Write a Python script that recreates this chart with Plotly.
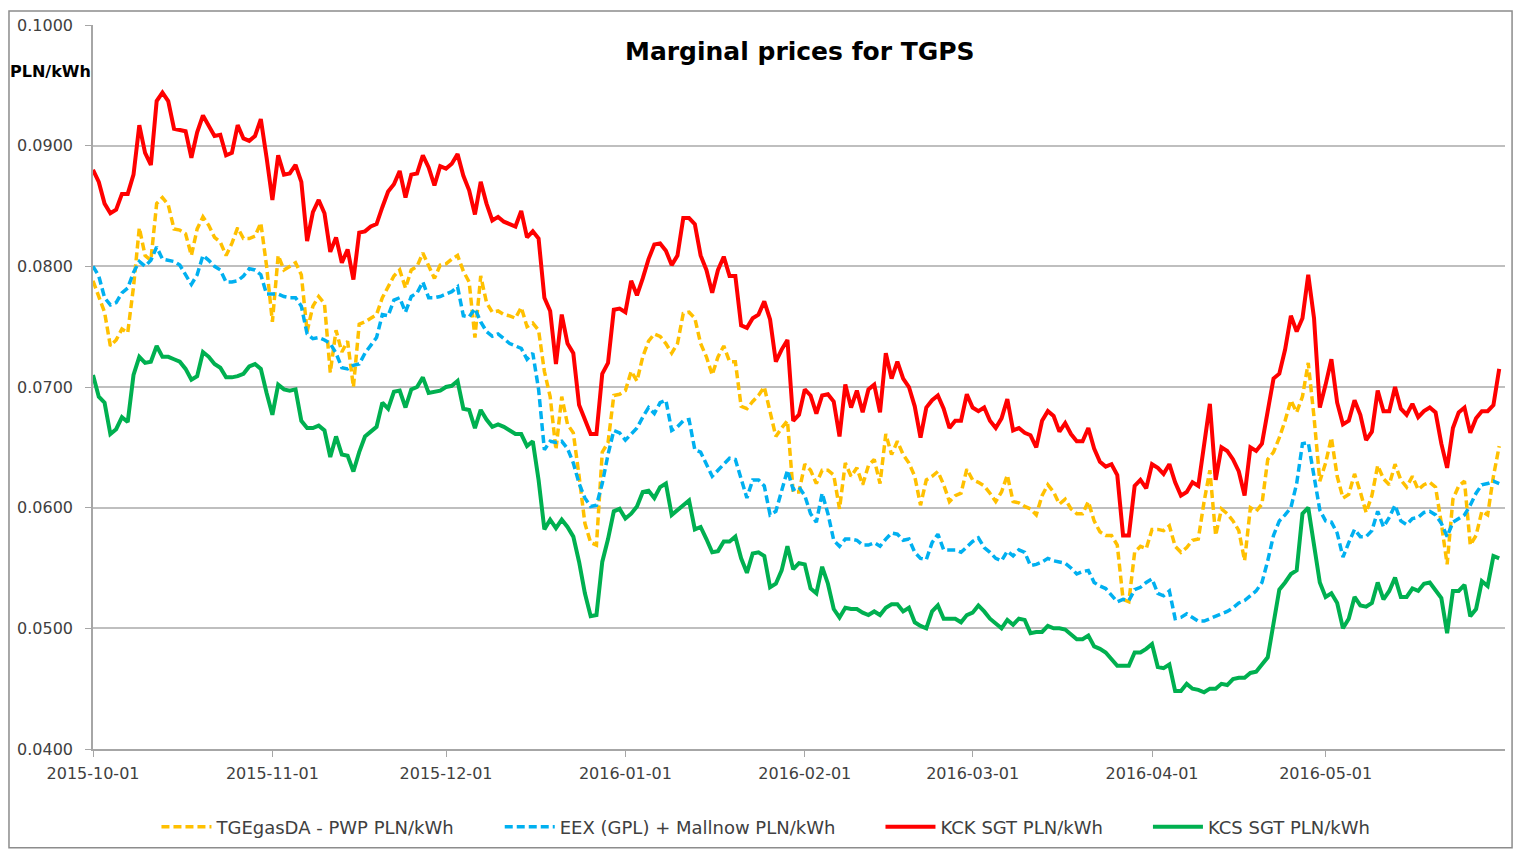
import pandas as pd
import plotly.graph_objects as go

start_date = "2015-10-01"

tge_pwp = [
0.0788,0.0775,0.0762,0.0734,0.0739,0.0748,0.0745,0.0783,0.0832,0.0809,0.0805,0.0852,0.0857,0.0851,0.0831,0.0830,0.0827,0.0809,0.0831,0.0841,
0.0834,0.0824,0.0820,0.0809,0.0819,0.0832,0.0823,0.0823,0.0825,0.0836,0.0800,0.0754,0.0809,0.0797,0.0800,0.0803,0.0793,0.0746,0.0767,0.0775,
0.0769,0.0712,0.0747,0.0729,0.0738,0.0700,0.0752,0.0754,0.0757,0.0760,0.0774,0.0783,0.0792,0.0797,0.0782,0.0797,0.0800,0.0811,0.0800,0.0790,
0.0801,0.0802,0.0806,0.0809,0.0796,0.0787,0.0741,0.0792,0.0770,0.0762,0.0763,0.0760,0.0759,0.0757,0.0766,0.0750,0.0753,0.0747,0.0713,0.0692,
0.0648,0.0692,0.0669,0.0662,0.0626,0.0587,0.0571,0.0569,0.0646,0.0654,0.0693,0.0694,0.0697,0.0713,0.0705,0.0725,0.0738,0.0744,0.0742,0.0736,
0.0728,0.0736,0.0761,0.0762,0.0757,0.0736,0.0725,0.0710,0.0725,0.0734,0.0721,0.0721,0.0684,0.0682,0.0688,0.0693,0.0700,0.0678,0.0659,0.0666,
0.0672,0.0613,0.0613,0.0636,0.0631,0.0620,0.0631,0.0631,0.0627,0.0599,0.0637,0.0626,0.0633,0.0619,0.0635,0.0640,0.0620,0.0661,0.0644,0.0655,
0.0644,0.0637,0.0626,0.0602,0.0623,0.0626,0.0630,0.0619,0.0605,0.0610,0.0612,0.0632,0.0623,0.0621,0.0618,0.0612,0.0605,0.0613,0.0627,0.0605,
0.0604,0.0601,0.0599,0.0594,0.0610,0.0619,0.0613,0.0603,0.0607,0.0599,0.0595,0.0595,0.0605,0.0589,0.0580,0.0577,0.0577,0.0569,0.0524,0.0522,
0.0563,0.0568,0.0566,0.0582,0.0582,0.0581,0.0585,0.0568,0.0563,0.0567,0.0573,0.0574,0.0605,0.0631,0.0577,0.0599,0.0595,0.0589,0.0581,0.0556,
0.0600,0.0597,0.0603,0.0640,0.0646,0.0658,0.0672,0.0689,0.0679,0.0692,0.0720,0.0675,0.0622,0.0637,0.0658,0.0626,0.0608,0.0611,0.0628,0.0613,
0.0596,0.0610,0.0635,0.0624,0.0619,0.0636,0.0623,0.0617,0.0626,0.0615,0.0619,0.0621,0.0617,0.0587,0.0553,0.0607,0.0618,0.0622,0.0569,0.0577,
0.0597,0.0594,0.0626,0.0651]

eex_mallnow = [
0.0800,0.0792,0.0774,0.0768,0.0770,0.0778,0.0782,0.0795,0.0804,0.0800,0.0805,0.0816,0.0806,0.0805,0.0804,0.0801,0.0793,0.0785,0.0793,0.0809,
0.0805,0.0800,0.0797,0.0787,0.0787,0.0788,0.0792,0.0798,0.0797,0.0793,0.0777,0.0777,0.0777,0.0775,0.0774,0.0774,0.0767,0.0744,0.0740,0.0741,
0.0739,0.0736,0.0728,0.0716,0.0715,0.0718,0.0719,0.0728,0.0734,0.0741,0.0760,0.0759,0.0772,0.0774,0.0762,0.0775,0.0778,0.0787,0.0774,0.0774,
0.0775,0.0777,0.0779,0.0783,0.0759,0.0758,0.0765,0.0754,0.0746,0.0742,0.0744,0.0740,0.0736,0.0734,0.0732,0.0723,0.0728,0.0698,0.0648,0.0655,
0.0654,0.0655,0.0649,0.0637,0.0620,0.0608,0.0601,0.0602,0.0620,0.0644,0.0664,0.0662,0.0656,0.0661,0.0666,0.0675,0.0683,0.0678,0.0687,0.0689,
0.0664,0.0667,0.0672,0.0673,0.0648,0.0646,0.0636,0.0626,0.0631,0.0636,0.0641,0.0640,0.0623,0.0608,0.0623,0.0623,0.0618,0.0594,0.0597,0.0613,
0.0631,0.0615,0.0617,0.0610,0.0595,0.0588,0.0612,0.0595,0.0573,0.0568,0.0574,0.0574,0.0573,0.0569,0.0569,0.0571,0.0568,0.0574,0.0579,0.0578,
0.0573,0.0574,0.0563,0.0558,0.0557,0.0571,0.0578,0.0565,0.0565,0.0565,0.0563,0.0568,0.0572,0.0575,0.0567,0.0563,0.0558,0.0556,0.0564,0.0560,
0.0565,0.0563,0.0552,0.0553,0.0555,0.0558,0.0556,0.0555,0.0554,0.0550,0.0545,0.0547,0.0548,0.0538,0.0535,0.0533,0.0528,0.0522,0.0524,0.0523,
0.0532,0.0534,0.0538,0.0541,0.0529,0.0527,0.0531,0.0508,0.0509,0.0512,0.0509,0.0506,0.0506,0.0508,0.0510,0.0512,0.0514,0.0517,0.0521,0.0523,
0.0527,0.0531,0.0538,0.0556,0.0577,0.0589,0.0594,0.0600,0.0620,0.0653,0.0654,0.0627,0.0598,0.0589,0.0588,0.0579,0.0559,0.0571,0.0582,0.0576,
0.0576,0.0581,0.0597,0.0584,0.0592,0.0602,0.0589,0.0586,0.0591,0.0592,0.0596,0.0597,0.0594,0.0587,0.0576,0.0588,0.0591,0.0594,0.0602,0.0612,
0.0619,0.0620,0.0622,0.0620]

kck_sgt = [
0.0880,0.0870,0.0852,0.0844,0.0847,0.0860,0.0860,0.0876,0.0917,0.0894,0.0884,0.0937,0.0944,0.0937,0.0914,0.0913,0.0912,0.0890,0.0911,0.0925,
0.0917,0.0908,0.0909,0.0892,0.0894,0.0917,0.0906,0.0904,0.0908,0.0922,0.0890,0.0855,0.0892,0.0876,0.0877,0.0884,0.0870,0.0821,0.0845,0.0855,
0.0844,0.0812,0.0824,0.0803,0.0814,0.0789,0.0828,0.0829,0.0833,0.0835,0.0849,0.0862,0.0868,0.0879,0.0857,0.0876,0.0877,0.0892,0.0882,0.0867,
0.0883,0.0881,0.0885,0.0893,0.0875,0.0863,0.0843,0.0870,0.0852,0.0838,0.0841,0.0837,0.0835,0.0833,0.0846,0.0824,0.0829,0.0823,0.0774,0.0763,
0.0719,0.0760,0.0736,0.0728,0.0685,0.0672,0.0661,0.0661,0.0711,0.0720,0.0764,0.0765,0.0762,0.0788,0.0776,0.0790,0.0806,0.0818,0.0819,0.0813,
0.0801,0.0809,0.0840,0.0840,0.0835,0.0809,0.0797,0.0778,0.0797,0.0808,0.0792,0.0792,0.0751,0.0749,0.0757,0.0760,0.0771,0.0756,0.0721,0.0731,
0.0739,0.0672,0.0677,0.0698,0.0693,0.0678,0.0693,0.0694,0.0688,0.0659,0.0702,0.0683,0.0697,0.0679,0.0698,0.0702,0.0679,0.0728,0.0707,0.0721,
0.0707,0.0700,0.0684,0.0658,0.0683,0.0689,0.0693,0.0682,0.0666,0.0672,0.0672,0.0694,0.0683,0.0680,0.0683,0.0672,0.0666,0.0674,0.0690,0.0664,
0.0666,0.0662,0.0660,0.0650,0.0672,0.0680,0.0676,0.0663,0.0670,0.0661,0.0655,0.0655,0.0666,0.0649,0.0638,0.0634,0.0636,0.0627,0.0577,0.0577,
0.0618,0.0623,0.0616,0.0636,0.0633,0.0628,0.0636,0.0621,0.0610,0.0613,0.0621,0.0618,0.0653,0.0686,0.0623,0.0650,0.0647,0.0640,0.0630,0.0610,
0.0650,0.0647,0.0653,0.0679,0.0707,0.0711,0.0731,0.0759,0.0746,0.0757,0.0793,0.0757,0.0683,0.0702,0.0723,0.0687,0.0669,0.0672,0.0689,0.0677,
0.0656,0.0663,0.0697,0.0680,0.0680,0.0700,0.0682,0.0677,0.0686,0.0675,0.0680,0.0683,0.0679,0.0653,0.0633,0.0666,0.0679,0.0683,0.0662,0.0674,
0.0680,0.0680,0.0685,0.0715]

kcs_sgt = [
0.0710,0.0692,0.0687,0.0661,0.0665,0.0675,0.0671,0.0710,0.0725,0.0720,0.0721,0.0734,0.0725,0.0725,0.0723,0.0721,0.0715,0.0706,0.0709,0.0729,
0.0725,0.0719,0.0716,0.0708,0.0708,0.0709,0.0711,0.0717,0.0719,0.0715,0.0695,0.0677,0.0702,0.0698,0.0697,0.0698,0.0672,0.0666,0.0666,0.0668,
0.0664,0.0642,0.0659,0.0644,0.0643,0.0630,0.0646,0.0659,0.0663,0.0667,0.0687,0.0682,0.0696,0.0697,0.0683,0.0698,0.0700,0.0708,0.0695,0.0696,
0.0697,0.0700,0.0701,0.0705,0.0682,0.0681,0.0666,0.0681,0.0673,0.0667,0.0669,0.0667,0.0664,0.0661,0.0661,0.0651,0.0655,0.0623,0.0582,0.0590,
0.0583,0.0590,0.0584,0.0576,0.0555,0.0529,0.0510,0.0511,0.0555,0.0574,0.0597,0.0599,0.0591,0.0595,0.0601,0.0613,0.0614,0.0608,0.0617,0.0620,
0.0594,0.0598,0.0602,0.0606,0.0582,0.0584,0.0574,0.0563,0.0564,0.0572,0.0572,0.0576,0.0558,0.0546,0.0562,0.0563,0.0560,0.0534,0.0537,0.0548,
0.0568,0.0549,0.0554,0.0553,0.0533,0.0529,0.0551,0.0537,0.0516,0.0509,0.0517,0.0516,0.0516,0.0513,0.0511,0.0514,0.0511,0.0517,0.0520,0.0520,
0.0514,0.0517,0.0505,0.0502,0.0500,0.0514,0.0519,0.0508,0.0508,0.0508,0.0505,0.0511,0.0513,0.0519,0.0514,0.0508,0.0504,0.0500,0.0507,0.0503,
0.0508,0.0507,0.0496,0.0497,0.0497,0.0502,0.0500,0.0500,0.0499,0.0495,0.0491,0.0491,0.0494,0.0485,0.0483,0.0480,0.0475,0.0469,0.0469,0.0469,
0.0480,0.0480,0.0483,0.0487,0.0468,0.0467,0.0470,0.0448,0.0448,0.0454,0.0450,0.0449,0.0447,0.0450,0.0450,0.0454,0.0453,0.0458,0.0459,0.0459,
0.0463,0.0464,0.0470,0.0476,0.0504,0.0532,0.0538,0.0545,0.0548,0.0595,0.0600,0.0571,0.0538,0.0526,0.0529,0.0521,0.0500,0.0508,0.0526,0.0519,
0.0518,0.0521,0.0538,0.0524,0.0531,0.0542,0.0526,0.0526,0.0533,0.0531,0.0537,0.0538,0.0531,0.0525,0.0496,0.0531,0.0531,0.0536,0.0510,0.0516,
0.0539,0.0535,0.0560,0.0558]

series_names = ["TGEgasDA - PWP PLN/kWh", "EEX (GPL) + Mallnow PLN/kWh",
                "KCK SGT PLN/kWh", "KCS SGT PLN/kWh"]
month_ticks = ["2015-10-01", "2015-11-01", "2015-12-01", "2016-01-01",
               "2016-02-01", "2016-03-01", "2016-04-01", "2016-05-01"]
y_ticks = [0.04, 0.05, 0.06, 0.07, 0.08, 0.09, 0.10]

FONT = "'DejaVu Sans', sans-serif"
TXT = "#404040"
PAD = "\u00a0" * 7  # spacing between legend entries

styles = [
    dict(color="#FFC000", width=3.5, dash="8px,4px"),
    dict(color="#00B0F0", width=3.5, dash="8px,4px"),
    dict(color="#FF0000", width=4),
    dict(color="#00B050", width=4),
]

fig = go.Figure()
for i, (name, vals, st) in enumerate(zip(series_names, [tge_pwp, eex_mallnow, kck_sgt, kcs_sgt], styles)):
    dates = pd.date_range(start_date, periods=len(vals), freq="D")
    label = name + (PAD if i < len(series_names) - 1 else "")
    fig.add_trace(go.Scatter(x=dates, y=vals, mode="lines", name=label, line=st))

fig.update_layout(
    width=1505, height=841,
    margin=dict(l=85, r=8, t=15, b=100),
    paper_bgcolor="white", plot_bgcolor="white",
    font=dict(family=FONT, size=16, color=TXT),
    showlegend=True,
    legend=dict(orientation="h", xref="paper", x=0.4766, xanchor="center",
                yref="container", y=0.0262, yanchor="middle",
                font=dict(size=18, color=TXT), itemwidth=50, tracegroupgap=0),
    xaxis=dict(
        type="date", range=["2015-10-01", "2016-06-01"],
        tickvals=month_ticks, ticktext=month_ticks,
        showgrid=False, showline=True, linecolor="#A6A6A6", linewidth=1.5,
        ticks="outside", ticklen=6, tickcolor="#A6A6A6",
        tickfont=dict(size=16, color=TXT), ticklabelstandoff=3,
    ),
    yaxis=dict(
        range=[0.04, 0.10], tickvals=y_ticks, tickformat=".4f",
        showgrid=True, gridcolor="#BFBFBF", gridwidth=1.5,
        showline=True, linecolor="#A6A6A6", linewidth=1.5,
        ticks="outside", ticklen=6, tickcolor="#A6A6A6",
        tickfont=dict(size=16, color=TXT), zeroline=False, ticklabelstandoff=9,
    ),
    annotations=[
        dict(text="<b>Marginal prices for TGPS</b>", xref="paper", yref="paper",
             x=0.5007, y=0.963, xanchor="center", yanchor="middle", showarrow=False,
             font=dict(size=25, color="black", family=FONT)),
        dict(text="<b>PLN/kWh</b>", xref="paper", yref="paper",
             x=-0.0603, y=0.936, xanchor="left", yanchor="middle", showarrow=False,
             font=dict(size=16, color="black", family=FONT)),
    ],
    shapes=[
        dict(type="rect", xref="paper", yref="paper", x0=-0.0595, x1=1.0050,
             y0=-0.1364, y1=1.0193, line=dict(color="#8C8C8C", width=1.5)),
    ],
)

fig.write_html("out.html")
